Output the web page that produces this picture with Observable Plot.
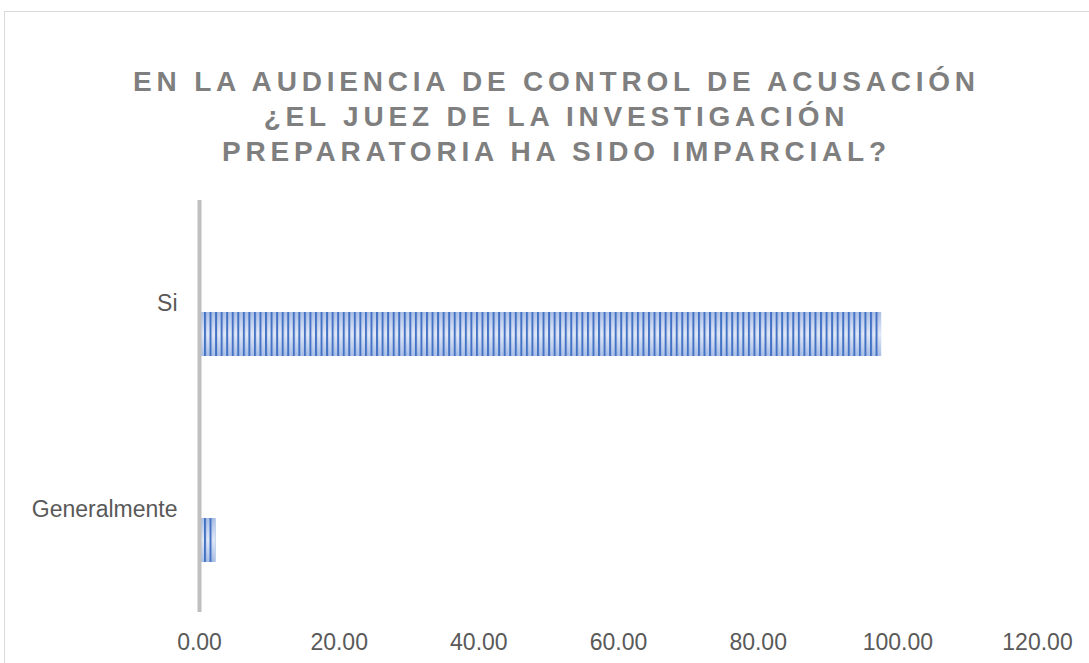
<!DOCTYPE html>
<html>
<head>
<meta charset="utf-8">
<script src="https://cdn.jsdelivr.net/npm/d3@7"></script>
<script src="https://cdn.jsdelivr.net/npm/@observablehq/plot@0.6"></script>
<style>
  html, body { margin: 0; padding: 0; background: #fff; overflow: hidden; }
  #wrap { position: relative; width: 1089px; height: 663px; overflow: hidden; font-family: "Liberation Sans", Arial, sans-serif; }
  #frame { position: absolute; left: 4px; top: 11px; width: 1200px; height: 800px; border: 1px solid #d9d9d9; box-sizing: border-box; }
  #title { position: absolute; left: 0; top: 64px; width: 1113px; text-align: center; font-size: 28px; font-weight: bold; line-height: 35px; letter-spacing: 4.8px; color: #7f7f7f; }
  #chart { position: absolute; left: 0; top: 180px; }
</style>
</head>
<body>
<div id="wrap">
  <div id="frame"></div>
  <div id="title">EN LA AUDIENCIA DE CONTROL DE ACUSACIÓN<br>¿EL JUEZ DE LA INVESTIGACIÓN<br>PREPARATORIA HA SIDO IMPARCIAL?</div>
  <div id="chart"></div>
</div>
<script>
const categories = ["Si", "Generalmente"];
const values = [97.67, 2.33];
const xTicks = [0, 20, 40, 60, 80, 100, 120];

const data = categories.map((c, i) => ({category: c, value: values[i]}));

const plot = Plot.plot({
  width: 1089,
  height: 483,
  marginLeft: 199,
  marginRight: 52,
  marginTop: 20,
  marginBottom: 51,
  style: {fontFamily: "Liberation Sans, Arial, sans-serif", background: "transparent"},
  x: {domain: [0, 120], ticks: xTicks},
  y: {domain: categories, paddingInner: 0.786, paddingOuter: 0.393, range: [51, 464]},
  marks: [
    Plot.barX(data, {y: "category", x: "value", fill: "url(#barGrad)"}),
    Plot.barX(data, {y: "category", x: "value", fill: "url(#barStripes)"}),
    Plot.ruleX([0], {stroke: "#bfbfbf", strokeWidth: 4}),
    Plot.axisX({ticks: xTicks, tickFormat: d3.format(".2f"), tickSize: 0, tickPadding: 21, fontSize: 23, color: "#595959", label: null}),
    Plot.axisY({tickSize: 0, tickPadding: 22, dy: -31, fontSize: 23, color: "#595959", label: null})
  ]
});

const svg = d3.select(plot);
const defs = svg.insert("defs", ":first-child");
const grad = defs.append("linearGradient").attr("id", "barGrad")
  .attr("x1", 0).attr("y1", 0).attr("x2", 0).attr("y2", 1);
grad.append("stop").attr("offset", "0%").attr("stop-color", "#a9bee6");
grad.append("stop").attr("offset", "50%").attr("stop-color", "#e0e8f7");
grad.append("stop").attr("offset", "100%").attr("stop-color", "#a9bee6");
const pat = defs.append("pattern").attr("id", "barStripes")
  .attr("patternUnits", "userSpaceOnUse")
  .attr("x", 204).attr("y", 0).attr("width", 5.55).attr("height", 600);
pat.append("rect").attr("x", 0).attr("y", 0).attr("width", 2).attr("height", 600).attr("fill", "#4472c4");

document.getElementById("chart").appendChild(plot);
</script>
</body>
</html>
